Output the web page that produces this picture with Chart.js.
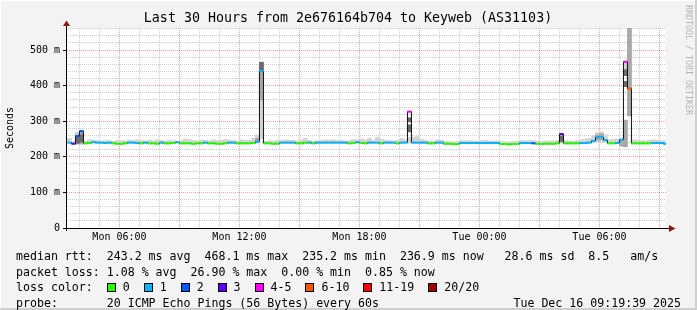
<!DOCTYPE html>
<html>
<head>
<meta charset="utf-8">
<script src="https://cdn.jsdelivr.net/npm/chart.js@4.4.1/dist/chart.umd.min.js"></script>
<style>
  html, body { margin: 0; padding: 0; background: #f3f3f3; }
  #wrap { position: relative; width: 697px; height: 310px; overflow: hidden; }
  canvas { position: absolute; left: 0; top: 0; }
  .lg { position: absolute; left: 16px; font: 11.6px "DejaVu Sans Mono", monospace; color: #000; white-space: pre; line-height: 14px; }
  .box { display: inline-block; width: 7px; height: 7px; border: 1px solid #000; margin-right: 7px; vertical-align: -1px; }
</style>
</head>
<body>
<div id="wrap">
  <canvas id="chart" width="697" height="310"></canvas>
  <div class="lg" style="top:249px">median rtt:  243.2 ms avg  468.1 ms max  235.2 ms min  236.9 ms now   28.6 ms sd  8.5   am/s</div>
  <div class="lg" style="top:264.5px">packet loss: 1.08 % avg  26.90 % max  0.00 % min  0.85 % now</div>
  <div class="lg" id="losscolor" style="top:280px">loss color:  </div>
  <div class="lg" style="top:296px">probe:       20 ICMP Echo Pings (56 Bytes) every 60s</div>
  <div class="lg" style="top:296px; left:auto; right:16px">Tue Dec 16 09:19:39 2025</div>
</div>
<script>
// 12 minute bins, first one starts Mon 03:24 (minutes since Mon 00:00)
const binStart = 204;
const binStep = 12;
const viewStart = 199.65;   // Mon 03:19:39
const viewSpan = 1800;      // 30 hours

const medianRtt = [
  240,237,258,272,238,239,241,240,240,239,
  240,238,237,237,238,240,240,239,238,240,
  238,238,237,240,238,238,239,241,238,238,
  238,237,238,238,240,238,238,237,237,238,
  240,240,238,238,238,238,239,243,441,238,
  238,237,237,240,240,240,240,238,238,240,
  240,238,240,240,240,240,240,240,240,240,
  238,239,241,239,238,240,240,240,238,240,
  240,240,238,240,240,327,240,240,240,240,
  238,238,240,240,237,237,236,236,239,239,
  239,239,239,239,239,239,239,239,236,236,
  235,236,236,239,239,239,238,237,236,237,
  237,237,238,264,238,238,238,238,239,239,
  240,245,255,255,247,238,238,239,248,467,
  392,238,238,238,238,238,239,239,239,237
];

// index into lossLabels / lossColors
const lossClass = [
  1,3,2,2,0,0,1,1,1,1,
  1,0,0,0,0,1,1,1,0,1,
  0,0,0,1,0,0,0,1,0,0,
  0,0,0,0,1,0,0,0,0,0,
  1,1,0,0,0,0,0,1,1,0,
  0,0,0,1,1,1,1,0,0,0,
  1,0,1,1,1,1,1,1,1,1,
  0,0,1,0,0,1,1,1,0,1,
  1,1,0,1,1,4,1,1,1,1,
  0,0,1,1,0,0,0,0,1,1,
  1,1,1,1,1,1,1,1,0,0,
  0,0,0,1,1,1,2,0,0,0,
  0,0,0,3,0,0,0,0,1,1,
  1,1,1,1,1,0,0,1,1,4,
  5,0,0,0,0,0,1,1,1,1
];

// outer (light) smoke band
const smokeLo = [
  238,235,236,236,236,237,239,238,238,237,
  238,236,235,235,236,238,238,237,236,238,
  236,236,235,238,236,236,237,239,236,236,
  236,235,236,236,238,236,236,235,235,236,
  238,238,236,236,236,236,237,238,250,236,
  236,235,235,238,238,238,238,236,236,238,
  238,236,238,238,238,238,238,238,238,238,
  236,237,239,237,236,238,238,238,236,238,
  238,238,236,238,238,238,238,238,238,238,
  236,236,238,238,235,235,234,234,237,237,
  237,237,237,237,237,237,237,237,234,234,
  233,234,234,237,237,237,236,235,234,235,
  235,235,236,240,236,236,236,236,237,237,
  238,240,243,243,240,236,236,237,230,440,
  315,236,236,236,236,236,237,237,237,235
];
const smokeHi = [
  252,242,270,275,244,248,247,246,244,246,
  245,244,246,245,246,247,246,248,246,245,
  247,245,248,246,245,247,246,244,246,250,
  248,246,245,247,246,245,248,246,247,249,
  247,246,245,248,246,247,252,262,466,244,
  245,244,246,246,248,247,246,245,248,252,
  246,244,245,246,248,247,248,246,247,245,
  246,249,248,250,247,252,246,255,250,247,
  246,245,247,252,248,255,255,257,250,246,
  245,244,248,247,244,243,242,243,246,245,
  246,245,244,246,247,245,244,245,243,242,
  242,243,244,246,245,246,246,244,243,245,
  244,245,246,266,246,245,244,246,248,250,
  252,258,268,270,262,248,249,250,252,470,
  600,248,247,246,245,247,248,247,246,245
];

// denser smoke: [bin, low, high]
const midBands = [
  [2,236,262],[3,236,273],[47,240,252],[48,360,462],[123,240,263],
  [132,246,262],[133,248,265],[138,230,245],[139,228,303],[140,315,600]
];
const darkBands = [
  [2,238,255],[3,242,262],[48,444,466],[85,298,310],[85,270,290],
  [123,244,258],[139,428,445],[139,397,412]
];

const lossLabels = ['0', '1', '2', '3', '4-5', '6-10', '11-19', '20/20'];
const lossColors = ['#26ff00', '#00b8ff', '#0059ff', '#5e00ff', '#ff00ff', '#ff5500', '#ff0000', '#a10000'];

const xLabelAt = [360, 720, 1080, 1440, 1800];
const xLabels = ['Mon 06:00', 'Mon 12:00', 'Mon 18:00', 'Tue 00:00', 'Tue 06:00'];
const yLabelAt = [0, 100, 200, 300, 400, 500];
const yLabels = ['0', '100 m', '200 m', '300 m', '400 m', '500 m'];

const times = medianRtt.map((_, i) => binStart + binStep * i + binStep / 2);

// legend boxes
const lc = document.getElementById('losscolor');
lossLabels.forEach((lab, i) => {
  const b = document.createElement('span');
  b.className = 'box';
  b.style.background = lossColors[i];
  lc.appendChild(b);
  lc.appendChild(document.createTextNode(lab + (i < lossLabels.length - 1 ? '  ' : '')));
});

const mono = 'DejaVu Sans Mono';
const majorGrid = 'rgba(255,0,0,0.38)';
const minorGrid = 'rgba(0,0,0,0.2)';
const none = 'rgba(0,0,0,0)';

const decor = {
  id: 'decor',
  beforeDraw(chart) {
    const { ctx, chartArea: a, width, height } = chart;
    ctx.save();
    ctx.fillStyle = '#f3f3f3';
    ctx.fillRect(0, 0, width, height);
    ctx.fillStyle = '#cfcfcf';
    ctx.fillRect(width - 2, 0, 2, height);
    ctx.fillRect(0, height - 2, width, 2);
    ctx.fillStyle = '#ffffff';
    ctx.fillRect(0, 0, width - 2, 1);
    ctx.fillRect(0, 0, 1, height - 2);
    ctx.fillRect(a.left, a.top, a.right - a.left, a.bottom - a.top);
    ctx.restore();
  },
  afterDraw(chart) {
    const { ctx, chartArea: a } = chart;
    ctx.save();
    ctx.strokeStyle = '#000';
    ctx.lineWidth = 1;
    ctx.beginPath();
    ctx.moveTo(a.left + 0.5, a.bottom + 3);
    ctx.lineTo(a.left + 0.5, a.top - 3);
    ctx.moveTo(a.left - 3, a.bottom + 0.5);
    ctx.lineTo(a.right + 4, a.bottom + 0.5);
    ctx.stroke();
    ctx.fillStyle = '#8b1a1a';
    ctx.beginPath();
    ctx.moveTo(a.left + 0.5, a.top - 7.5);
    ctx.lineTo(a.left - 3, a.top - 2);
    ctx.lineTo(a.left + 4, a.top - 2);
    ctx.closePath();
    ctx.fill();
    ctx.beginPath();
    ctx.moveTo(a.right + 9.5, a.bottom + 0.5);
    ctx.lineTo(a.right + 3, a.bottom - 3);
    ctx.lineTo(a.right + 3, a.bottom + 4);
    ctx.closePath();
    ctx.fill();

    ctx.fillStyle = '#000';
    ctx.font = '13.3px "' + mono + '"';
    ctx.textAlign = 'center';
    ctx.textBaseline = 'middle';
    ctx.fillText('Last 30 Hours from 2e676164b704 to Keyweb (AS31103)', 348, 19);

    ctx.translate(688, 5);
    ctx.rotate(Math.PI / 2);
    ctx.fillStyle = '#b4b4b4';
    ctx.font = '8.3px "' + mono + '"';
    ctx.textAlign = 'left';
    ctx.fillText('RRDTOOL / TOBI OETIKER', 0, 0);
    ctx.restore();
  }
};

const fixedTicks = values => s => { s.ticks = values.map(v => ({ value: v })); };
const hourTicks = [];
for (let m = 240; m < viewStart + viewSpan; m += 60) hourTicks.push(m);
const yMinorTicks = [];
for (let v = 0; v <= 560; v += 20) yMinorTicks.push(v);

const band = { grouped: false, barPercentage: 1, categoryPercentage: 1 };

new Chart(document.getElementById('chart'), {
  type: 'bar',
  data: {
    datasets: [
      {
        type: 'line',
        data: times.map((t, i) => ({ x: t, y: medianRtt[i] })),
        showLine: false,
        pointStyle: 'line',
        pointRadius: 2,
        pointBorderWidth: 2,
        pointBorderColor: lossClass.map(c => lossColors[c]),
        pointBackgroundColor: lossClass.map(c => lossColors[c]),
        order: 0
      },
      {
        type: 'line',
        data: times.map((t, i) => ({ x: t, y: medianRtt[i] })),
        stepped: 'middle',
        borderColor: '#111',
        borderWidth: 1,
        pointRadius: 0,
        fill: false,
        order: 1
      },
      Object.assign({
        data: darkBands.map(([i, lo, hi]) => ({ x: times[i], y: [lo, hi] })),
        backgroundColor: '#6a6a6a',
        order: 2
      }, band),
      Object.assign({
        data: midBands.map(([i, lo, hi]) => ({ x: times[i], y: [lo, hi] })),
        backgroundColor: '#a8a8a8',
        order: 3
      }, band),
      Object.assign({
        data: times.map((t, i) => ({ x: t, y: [smokeLo[i], smokeHi[i]] })),
        backgroundColor: '#d4d4d4',
        order: 4
      }, band)
    ]
  },
  options: {
    responsive: false,
    animation: false,
    devicePixelRatio: 1,
    events: [],
    layout: { padding: { top: 28, right: 31, bottom: 0, left: 0 } },
    plugins: {
      legend: { display: false },
      tooltip: { enabled: false },
      title: { display: false }
    },
    scales: {
      x: {
        type: 'linear',
        offset: false,
        min: viewStart,
        max: viewStart + viewSpan,
        afterBuildTicks: fixedTicks(xLabelAt),
        afterFit: s => { s.height = 82; },
        grid: { display: false, drawTicks: false, offset: false },
        border: { display: true, color: '#000' },
        ticks: {
          autoSkip: false,
          maxRotation: 0,
          padding: 3,
          color: '#000',
          font: { family: mono, size: 10 },
          callback: v => xLabels[xLabelAt.indexOf(v)] || ''
        }
      },
      xg: {
        type: 'linear',
        position: 'bottom',
        offset: false,
        min: viewStart,
        max: viewStart + viewSpan,
        afterBuildTicks: fixedTicks(hourTicks),
        afterFit: s => { s.height = 0; },
        ticks: { display: false },
        grid: {
          offset: false,
          drawTicks: false,
          lineWidth: 1,
          borderDash: [1, 1],
          color: c => (c.tick && c.tick.value % 180 === 0 ? majorGrid : minorGrid)
        },
        border: { display: false, dash: [1, 1] }
      },
      y: {
        type: 'linear',
        min: 0,
        max: 562,
        afterBuildTicks: fixedTicks(yLabelAt),
        afterFit: s => { s.width = 66; },
        grid: {
          color: majorGrid,
          borderDash: [1, 1],
          tickColor: '#000',
          tickLength: 3,
          lineWidth: 1
        },
        border: { display: true, color: '#000', dash: [1, 1] },
        ticks: {
          autoSkip: false,
          padding: 3,
          color: '#000',
          font: { family: mono, size: 10 },
          callback: v => yLabels[yLabelAt.indexOf(v)] || ''
        },
        title: {
          display: true,
          text: 'Seconds',
          color: '#000',
          font: { family: mono, size: 10 },
          padding: { top: 4, bottom: 0 }
        }
      },
      yg: {
        type: 'linear',
        position: 'left',
        min: 0,
        max: 562,
        afterBuildTicks: fixedTicks(yMinorTicks),
        afterFit: s => { s.width = 0; },
        ticks: { display: false },
        grid: {
          drawTicks: false,
          lineWidth: 1,
          borderDash: [1, 1],
          color: c => (c.tick && c.tick.value % 100 === 0 ? none : minorGrid)
        },
        border: { display: false, dash: [1, 1] }
      }
    }
  },
  plugins: [decor]
});
</script>
</body>
</html>
